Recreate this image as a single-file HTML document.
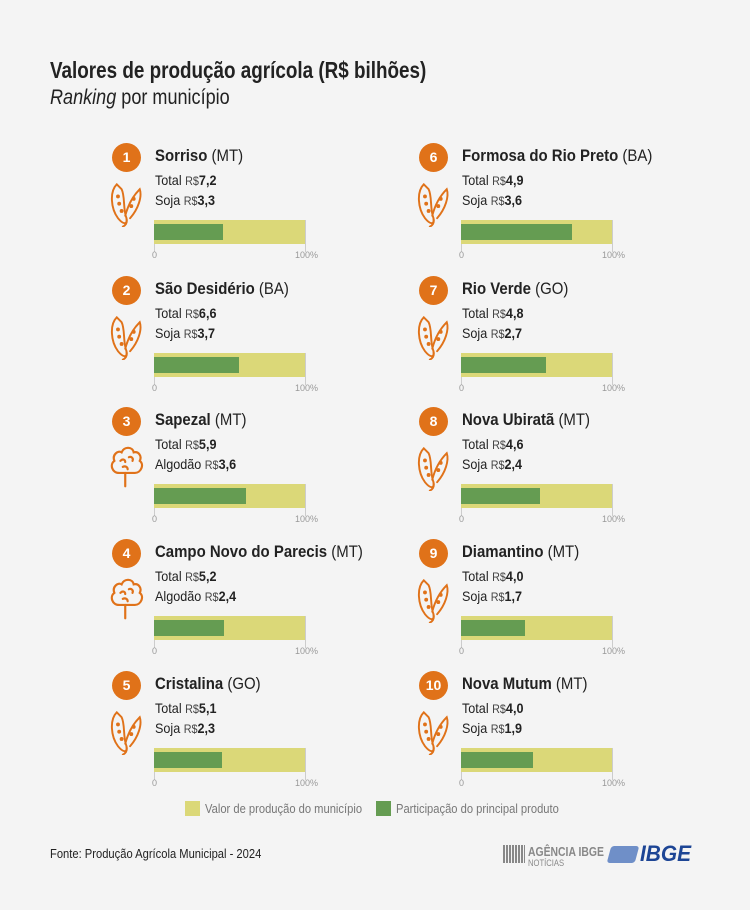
<!DOCTYPE html>
<html><head><meta charset="utf-8"><style>
body{margin:0;width:750px;height:910px;background:#f4f4f4;font-family:"Liberation Sans",sans-serif;color:#222;position:relative;overflow:hidden}
.a{position:absolute;white-space:nowrap;transform-origin:0 0}
.c{position:absolute;width:29px;height:29px;border-radius:50%;background:#e07219;color:#fff;font-weight:bold;font-size:14px;text-align:center;line-height:29px}
.nm{font-size:17px;transform:scaleX(.88)}
.nm b{font-weight:bold}
.t{font-size:14px;transform:scaleX(.9)}
.t small{font-size:12px;color:#444}
.t b{font-weight:bold}
.y{position:absolute;background:#dbd878;height:24px;width:151px}
.g{position:absolute;background:#659c52;height:16px}
.l{position:absolute;width:1px;background:#ccc;height:32px}
.tk{position:absolute;font-size:9px;color:#999}
</style></head><body>
<div class="a" style="left:50px;top:57px;font-size:23px;font-weight:bold;transform:scaleX(.82)">Valores de produção agrícola (R$ bilhões)</div>
<div class="a" style="left:50px;top:86px;font-size:21px;transform:scaleX(.86)"><i>Ranking</i> por município</div>

<svg width="0" height="0" style="position:absolute"><defs>
<g id="soy" fill="none" stroke="#e07219" stroke-width="1.6" stroke-linecap="round">
<path d="M7 2 C1 8 2 22 8 30 C12 35 16 36 15 30 C12 22 14 12 11 6 Z"/>
<path d="M14 28 C16 20 20 12 26 6 C28 12 25 22 18 30"/>
<path d="M15 30 C16 34 14 36 12 37"/>
<circle cx="8" cy="12" r=".8"/><circle cx="9" cy="18" r=".8"/><circle cx="11" cy="24" r=".8"/><circle cx="21" cy="14" r=".8"/><circle cx="19" cy="20" r=".8"/>
</g>
<g id="cot" fill="none" stroke="#e07219" stroke-width="1.8" stroke-linecap="round">
<path d="M9 24 C3 24 1 17 5 14 C3 9 8 5 11 7 C13 2 20 2 21 7 C25 6 28 10 26 14 C30 17 27 24 22 24 Z"/>
<path d="M14 24 L14 35"/><path d="M10 14 C12 12 14 13 14 15"/><path d="M17 11 C19 10 21 12 20 14"/><path d="M12 19 C14 18 16 19 16 21"/>
</g></defs></svg>

<div id="rows"></div>
<script>
var d=[["1","Sorriso","MT","Soja","7,2","3,3",0,157,"soy"],["2","São Desidério","BA","Soja","6,6","3,7",0,290,"soy"],["3","Sapezal","MT","Algodão","5,9","3,6",0,421,"cot"],["4","Campo Novo do Parecis","MT","Algodão","5,2","2,4",0,553,"cot"],["5","Cristalina","GO","Soja","5,1","2,3",0,685,"soy"],
["6","Formosa do Rio Preto","BA","Soja","4,9","3,6",307,157,"soy"],["7","Rio Verde","GO","Soja","4,8","2,7",307,290,"soy"],["8","Nova Ubiratã","MT","Soja","4,6","2,4",307,421,"soy"],["9","Diamantino","MT","Soja","4,0","1,7",307,553,"soy"],["10","Nova Mutum","MT","Soja","4,0","1,9",307,685,"soy"]];
var h="";
d.forEach(function(r){var x=r[6],y=r[7];var w=Math.round(parseFloat(r[5].replace(",","."))/parseFloat(r[4].replace(",","."))*151);
h+='<div class="c" style="left:'+(x+112)+'px;top:'+(y-14)+'px">'+r[0]+'</div>';
h+='<div class="a nm" style="left:'+(x+155)+'px;top:'+(y-11)+'px"><b>'+r[1]+'</b> ('+r[2]+')</div>';
h+='<div class="a t" style="left:'+(x+155)+'px;top:'+(y+15)+'px">Total <small>R$</small><b>'+r[4]+'</b></div>';
h+='<div class="a t" style="left:'+(x+155)+'px;top:'+(y+35)+'px">'+r[3]+' <small>R$</small><b>'+r[5]+'</b></div>';
h+='<svg style="position:absolute;left:'+(x+109)+'px;top:'+(y+(r[8]=="soy"?26:24))+'px" width="36" height="44" viewBox="0 0 32 40"><g transform="translate(-1,-1) scale(1.1)"><use href="#'+r[8]+'"/></g></svg>';
h+='<div class="l" style="left:'+(x+154)+'px;top:'+(y+63)+'px"></div><div class="l" style="left:'+(x+305)+'px;top:'+(y+63)+'px"></div>';
h+='<div class="y" style="left:'+(x+154)+'px;top:'+(y+63)+'px"></div>';
h+='<div class="g" style="left:'+(x+154)+'px;top:'+(y+67)+'px;width:'+w+'px"></div>';
h+='<div class="tk" style="left:'+(x+152)+'px;top:'+(y+93)+'px">0</div><div class="tk" style="left:'+(x+295)+'px;top:'+(y+93)+'px">100%</div>';
});
document.getElementById("rows").innerHTML=h;
</script>

<div style="position:absolute;left:185px;top:801px;width:15px;height:15px;background:#dbd878"></div>
<div class="a" style="left:205px;top:801px;font-size:13px;color:#777;transform:scaleX(.86)">Valor de produção do município</div>
<div style="position:absolute;left:376px;top:801px;width:15px;height:15px;background:#659c52"></div>
<div class="a" style="left:396px;top:801px;font-size:13px;color:#777;transform:scaleX(.86)">Participação do principal produto</div>

<div class="a" style="left:50px;top:846px;font-size:13px;transform:scaleX(.86)">Fonte: Produção Agrícola Municipal - 2024</div>

<div style="position:absolute;left:503px;top:845px;width:22px;height:18px;background:repeating-linear-gradient(90deg,#888 0 2px,transparent 2px 3px)"></div>
<div class="a" style="left:528px;top:844px;font-size:13px;font-weight:bold;color:#888;transform:scaleX(.8)">AGÊNCIA IBGE</div>
<div class="a" style="left:528px;top:858px;font-size:9px;color:#888;transform:scaleX(.85)">NOTÍCIAS</div>
<div style="position:absolute;left:609px;top:846px;width:28px;height:17px;background:#6f8fc8;transform:skewX(-15deg);border-radius:3px"></div>
<div class="a" style="left:640px;top:841px;font-size:22px;font-weight:bold;font-style:italic;color:#1d4595;transform:scaleX(.95)">IBGE</div>
</body></html>
